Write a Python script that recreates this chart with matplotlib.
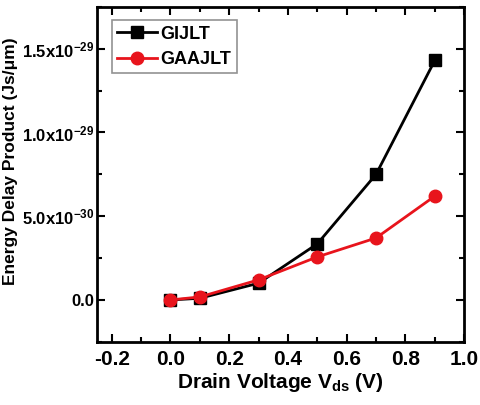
import matplotlib
matplotlib.use("Agg")
import matplotlib.pyplot as plt
from matplotlib.ticker import FuncFormatter, MultipleLocator

vds = [0.0, 0.1, 0.3, 0.5, 0.7, 0.9]
edp_gijlt = [0.0, 0.1e-30, 1.0e-30, 3.35e-30, 7.5e-30, 14.3e-30]
edp_gaajlt = [0.0, 0.18e-30, 1.2e-30, 2.57e-30, 3.7e-30, 6.2e-30]

plt.rcParams["font.family"] = "Liberation Sans"
plt.rcParams["font.weight"] = "bold"
plt.rcParams["mathtext.fontset"] = "custom"
plt.rcParams["mathtext.bf"] = "Liberation Sans:bold"
plt.rcParams["mathtext.rm"] = "Liberation Sans:bold"
plt.rcParams["mathtext.default"] = "bf"
plt.rcParams["xtick.direction"] = "in"
plt.rcParams["ytick.direction"] = "in"

fig = plt.figure(figsize=(4.8, 4.05), dpi=100)
ax = fig.add_axes([0.202, 0.156, 0.765, 0.827])

ax.plot(vds, edp_gijlt, color="black", marker="s", markersize=8, linewidth=2, label="GIJLT")
ax.plot(vds, edp_gaajlt, color="#e8141c", marker="o", markersize=9, linewidth=2, label="GAAJLT")

ax.set_xlim(-0.25, 1.0)
ax.set_ylim(-2.5e-30, 1.75e-29)
ax.xaxis.set_major_locator(MultipleLocator(0.2))
ax.xaxis.set_minor_locator(MultipleLocator(0.1))
ax.yaxis.set_major_locator(MultipleLocator(5e-30))
ax.yaxis.set_minor_locator(MultipleLocator(2.5e-30))


def fmt_y(v, pos):
    if abs(v) < 1e-40:
        return "0.0"
    exp = int(f"{v:e}".split("e")[1])
    mant = v / 10 ** exp
    return rf"{mant:.1f}x10$^{{{exp}}}$"


ax.yaxis.set_major_formatter(FuncFormatter(fmt_y))
ax.xaxis.set_major_formatter(FuncFormatter(lambda v, p: f"{v:.1f}"))
ax.yaxis.get_offset_text().set_visible(False)
ax.xaxis.get_offset_text().set_visible(False)

ax.tick_params(which="both", top=True, right=True, width=1.5)
ax.tick_params(which="major", length=6)
ax.tick_params(which="minor", length=3.5)
ax.tick_params(axis="x", labelsize=15, pad=6)
ax.tick_params(axis="y", labelsize=12, pad=2)
for s in ax.spines.values():
    s.set_linewidth(2)

ax.set_xlabel(r"Drain Voltage V$_{ds}$ (V)", fontsize=15, fontweight="bold", labelpad=1)
ax.set_ylabel("Energy Delay Product (Js/μm)", fontsize=12.5, fontweight="bold")
ax.yaxis.set_label_coords(-0.215, 0.54)

leg = ax.legend(loc="upper left", fontsize=13, frameon=True, fancybox=False,
                borderpad=0.3, handlelength=2.2, handletextpad=0.2, labelspacing=0.45,
                borderaxespad=0.0, bbox_to_anchor=(0.04, 0.96))
leg.get_frame().set_edgecolor("#777777")
leg.get_frame().set_linewidth(1.2)

fig.savefig("out.png", dpi=100)
